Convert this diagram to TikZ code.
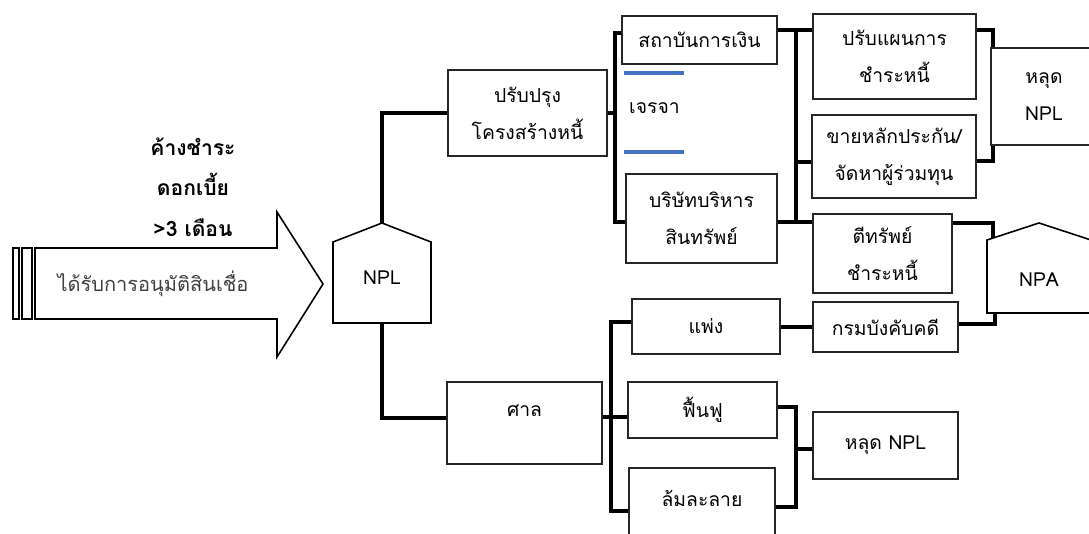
\documentclass[tikz,border=0pt]{standalone}
\usepackage{fontspec}
\setmainfont[Script=Thai]{Loma}
\usepackage{tikz}
\usetikzlibrary{positioning}

\newcommand{\boxfont}{\fontsize{11pt}{21pt}\selectfont}

\begin{document}
\begin{tikzpicture}[x=0.02cm,y=-0.02cm,
	box/.style={draw=black!85,line width=0.6pt,rectangle,inner sep=0pt,align=center,font=\boxfont},
	conn/.style={line width=2pt,line join=miter},
	outline/.style={draw=black,line width=0.9pt,line join=miter}]
	\clip (0,0) rectangle (1089,534);

	% big arrow with the two bars
	\draw[outline] (35,248) -- (277,248) -- (277,212) -- (323,284) -- (277,357) -- (277,319) -- (35,319) -- cycle;
	\draw[outline,line width=0.6pt] (13,248) rectangle (19,319);
	\draw[outline,line width=0.6pt] (22,248) rectangle (32,319);
	\node[font=\fontsize{11.4pt}{14pt}\selectfont,text=black!75] (loan) at (153,284) {ได้รับการอนุมัติสินเชื่อ};
	\node[align=center,font=\fontsize{12pt}{23pt}\selectfont\bfseries] (overdue) at (193,187) {ค้างชำระ\\ดอกเบี้ย\\>3 เดือน};

	% NPL and NPA
	\draw[outline] (333,242) -- (382,223) -- (431,242) -- (431,323) -- (333,323) -- cycle;
	\node[font=\boxfont] (npl) at (382,278) {NPL};
	\coordinate (npltop) at (382,223);
	\coordinate (nplbot) at (382,323);
	\draw[outline] (987,240) -- (1039,223) -- (1091,240) -- (1091,313) -- (987,313) -- cycle;
	\node[font=\boxfont] (npa) at (1039,280) {NPA};
	\coordinate (npabot) at (1039,313);

	% boxes
	\node[box,minimum width=3.18cm,minimum height=1.72cm] (restr) at (527.5,113) {ปรับปรุง\\โครงสร้างหนี้};
	\node[box,minimum width=3.10cm,minimum height=0.96cm] (fin) at (699.5,40) {สถาบันการเงิน};
	\node[box,minimum width=3.02cm,minimum height=1.78cm] (amc) at (701.5,218.5) {บริษัทบริหาร\\สินทรัพย์};
	\node[box,minimum width=3.26cm,minimum height=1.70cm] (plan) at (894.5,56.5) {ปรับแผนการ\\ชำระหนี้};
	\node[box,minimum width=3.28cm,minimum height=1.66cm] (sell) at (894,156.5) {ขายหลักประกัน/\\จัดหาผู้ร่วมทุน};
	\node[box,minimum width=2.78cm,minimum height=1.58cm] (seize) at (882.5,253.5) {ตีทรัพย์\\ชำระหนี้};
	\node[box,minimum width=2.12cm,minimum height=1.94cm] (out1) at (1044,96.5) {หลุด\\NPL};
	\node[box,minimum width=3.10cm,minimum height=1.64cm] (court) at (524.5,423) {};
	\node[font=\boxfont] (courttxt) at (524.5,411) {ศาล};
	\node[box,minimum width=2.96cm,minimum height=1.10cm] (civil) at (706,326.5) {แพ่ง};
	\node[box,minimum width=2.98cm,minimum height=1.12cm] (rehab) at (702.5,410) {ฟื้นฟู};
	\node[box,minimum width=2.92cm,minimum height=1.60cm] (bankr) at (702,508) {};
	\node[font=\boxfont] (bankrtxt) at (702,498) {ล้มละลาย};
	\node[box,minimum width=2.90cm,minimum height=1.00cm] (exec) at (885.5,327) {กรมบังคับคดี};
	\node[box,minimum width=2.90cm,minimum height=1.34cm] (out2) at (885.5,445.5) {หลุด NPL};

	% negotiation
	\node[font=\boxfont,anchor=west] (talk) at (623,108) {เจรจา};
	\draw[line width=2.6pt,color={rgb,255:red,68;green,114;blue,196}] (624,73) -- (684,73);
	\draw[line width=2.6pt,color={rgb,255:red,68;green,114;blue,196}] (624,152) -- (684,152);

	% junctions
	\coordinate (ja1) at (615,33);
	\coordinate (ja2) at (615,222);
	\coordinate (jb1) at (796,30);
	\coordinate (jb2) at (796,222);
	\coordinate (jb3) at (796,162);
	\coordinate (jc1) at (993,30);
	\coordinate (jc2) at (993,161);
	\coordinate (jd1) at (993,223);
	\coordinate (jd2) at (993,238);
	\coordinate (je) at (995,324);
	\coordinate (jf1) at (611,322);
	\coordinate (jf2) at (611,511);
	\coordinate (jf3) at (611,417);
	\coordinate (jg1) at (796,407);
	\coordinate (jg2) at (796,507);
	\coordinate (jg3) at (796,449);
	\coordinate (jh) at (382,418);

	% connectors
	\draw[conn] (npltop) |- (restr.west);
	\draw[conn] (nplbot) -- (jh) -- (jh -| court.west);
	\draw[conn] (restr.east) -- (restr.east -| ja1);
	\draw[conn] (ja1 -| fin.west) -- (ja1) -- (ja2) -- (ja2 -| amc.west);
	\draw[conn] (fin.east |- jb1) -- (jb1 -| plan.west);
	\draw[conn] (jb1) -- (jb2);
	\draw[conn] (amc.east |- jb2) -- (jb2 -| seize.west);
	\draw[conn] (jb3) -- (jb3 -| sell.west);
	\draw[conn] (plan.east |- jc1) -- (jc1) -- (jc1 |- out1.north);
	\draw[conn] (jc1 |- out1.south) -- (jc2) -- (jc2 -| sell.east);
	\draw[conn] (seize.east |- jd1) -- (jd1) -- (jd2);
	\draw[conn] (exec.east |- je) -- (je) -- (je |- npabot);
	\draw[conn] (civil.east |- exec.west) -- (exec.west);
	\draw[conn] (court.east |- jf3) -- (jf3 -| rehab.west);
	\draw[conn] (jf1 -| civil.west) -- (jf1) -- (jf2) -- (jf2 -| bankr.west);
	\draw[conn] (rehab.east |- jg1) -- (jg1) -- (jg2) -- (jg2 -| bankr.east);
	\draw[conn] (jg3) -- (jg3 -| out2.west);
\end{tikzpicture}
\end{document}
